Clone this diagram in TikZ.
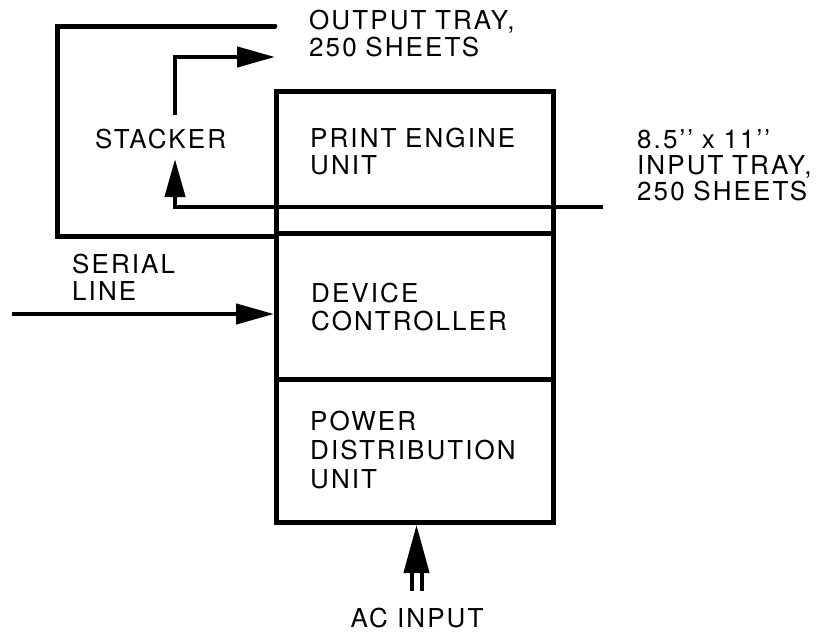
\documentclass[tikz,border=0pt]{standalone}
\usepackage{fontspec}
\setmainfont{TeX Gyre Heros}[LetterSpace=8]
\usetikzlibrary{arrows.meta}
\tikzset{
  wire/.style={line width=4.3pt},
  framewire/.style={line width=5pt},
  unitbox/.style={draw, line width=5pt, rectangle, inner sep=0pt, anchor=north west, minimum width=277pt},
  lbl/.style={inner sep=0pt, anchor=base west, text width=320pt, align=left, font=\fontsize{26}{27.5}\selectfont},
  arrowtip/.style={-{Triangle[length=38pt,width=20pt]}},
  bigtip/.style={-{Triangle[length=48pt,width=25pt]}},
}
\begin{document}
\begin{tikzpicture}[x=1pt,y=-1pt]
\useasboundingbox (0,0) rectangle (831,635);
% main unit
\node[unitbox, minimum height=142pt] (pe) at (274,89) {};
\node[unitbox, minimum height=146pt] (dc) at (274,231) {};
\node[unitbox, minimum height=143pt] (pdu) at (274,377) {};
% labels
\node[lbl] (outtray) at (309,29) {OUTPUT TRAY,\\250 SHEETS};
\node[lbl] (stk) at (95,148) {STACKER};
\node[lbl] (petxt) at (310,147) {PRINT ENGINE\\UNIT};
\node[lbl, font=\fontsize{26}{26.2}\selectfont] (intray) at (637,148) {8.5’’ x 11’’\\INPUT TRAY,\\250 SHEETS};
\node[lbl] (ser) at (72,273) {SERIAL\\LINE};
\node[lbl] (dctxt) at (311,302.5) {DEVICE\\CONTROLLER};
\node[lbl, font=\fontsize{26}{29}\selectfont] (pdutxt) at (310,430) {POWER\\DISTRIBUTION\\UNIT};
\node[inner sep=0pt, anchor=base, font=\fontsize{26}{27.5}\selectfont] (actxt) at (417,627) {AC INPUT};
% free ends
\coordinate (frametop) at (275,26);
\coordinate (stkout) at (175,115);
\coordinate (outin) at (275,57);
\coordinate (trayin) at (603,207);
\coordinate (stkin) at (175,159);
\coordinate (serin) at (12,314);
\coordinate (acplug) at (416.5,591);
% stacker frame
\draw[framewire, line cap=round] (frametop) -- (57,26) |- (pe.south west);
% stacker to output tray
\draw[wire, arrowtip] (stkout) |- (outin);
% input tray to stacker
\draw[wire, arrowtip] (trayin) -| (stkin);
% serial line
\draw[wire, arrowtip] (serin) -- (serin -| dc.west);
% ac input
\draw[line width=4pt, double distance=6pt] (acplug) -- ++(0,-22) coordinate (acbase);
\draw[wire, bigtip] (acbase) -- (acbase |- pdu.south);
\end{tikzpicture}
\end{document}
